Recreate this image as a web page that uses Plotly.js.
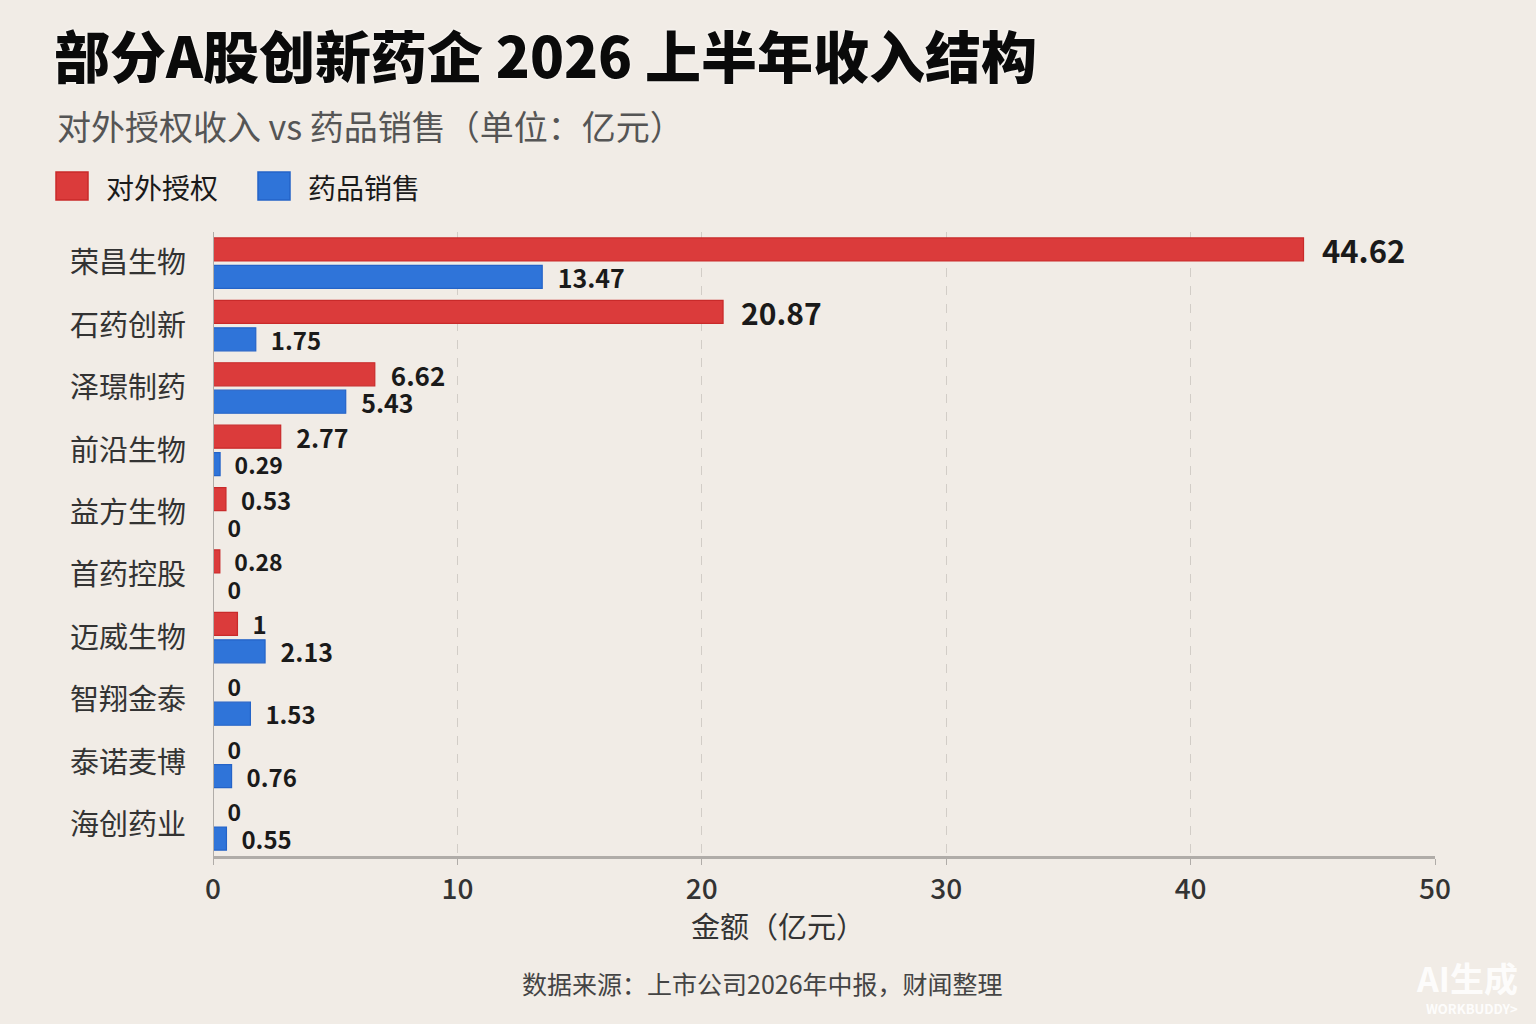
<!DOCTYPE html>
<html>
<head>
<meta charset="utf-8">
<script src="https://cdn.plot.ly/plotly-3.0.1.min.js"></script>
<style>
  html, body { margin: 0; padding: 0; background: #f1ece6; }
  #chart { width: 1536px; height: 1024px; }
</style>
</head>
<body>
<div id="chart"></div>
<script>
// 部分A股创新药企 2026 上半年收入结构 — 对外授权 vs 药品销售（亿元）
const companies = ['荣昌生物', '石药创新', '泽璟制药', '前沿生物', '益方生物', '首药控股', '迈威生物', '智翔金泰', '泰诺麦博', '海创药业'];
const licenseIncome = [44.62, 20.87, 6.62, 2.77, 0.53, 0.28, 1, 0, 0, 0];
const drugSales = [13.47, 1.75, 5.43, 0.29, 0, 0, 2.13, 1.53, 0.76, 0.55];
const xTicks = [0, 10, 20, 30, 40, 50];

const COLORS = {
  bg: '#f1ece6',
  red: '#db3b3b',
  redEdge: '#c92a2a',
  blue: '#2f74d9',
  blueEdge: '#2463c8',
  grid: '#d2cdc7',
  axis: '#b0aca8',
  text: '#1a1a1a',
  label: '#333333',
  sub: '#555555',
};
const FONT = '"Noto Sans CJK SC", "Noto Sans", sans-serif';
const NUM_FONT = '"Noto Sans CJK SC", Roboto, sans-serif';

const W = 1536, H = 1024;
const M = { l: 213, r: 101, t: 232, b: 168 };
// 像素 → paper 坐标
const px = x => (x - M.l) / (W - M.l - M.r);
const py = y => (H - M.b - y) / (H - M.t - M.b);

const labelOf = v => '\u2002' + String(v);

const traces = [
  {
    type: 'bar', orientation: 'h', name: '对外授权',
    y: companies, x: licenseIncome,
    marker: { color: COLORS.red, line: { color: COLORS.redEdge, width: 1.2 } },
    text: licenseIncome.map(labelOf), textposition: 'outside', constraintext: 'none', cliponaxis: false,
    textfont: { family: NUM_FONT, weight: 700, color: COLORS.text, size: [31, 30, 26, 25, 24, 23, 24, 23, 23, 23] },
    hoverinfo: 'x+name',
  },
  {
    type: 'bar', orientation: 'h', name: '药品销售',
    y: companies, x: drugSales,
    marker: { color: COLORS.blue, line: { color: COLORS.blueEdge, width: 1.2 } },
    text: drugSales.map(labelOf), textposition: 'outside', constraintext: 'none', cliponaxis: false,
    textfont: { family: NUM_FONT, weight: 700, color: COLORS.text, size: [25, 24, 25, 23, 23, 23, 25, 24, 24, 24] },
    hoverinfo: 'x+name',
  },
];

// 手绘图例（方块 + 文字），与原图位置一致
const legendItems = [
  { name: '对外授权', color: COLORS.red, edge: COLORS.redEdge, x0: 56, tx: 104 },
  { name: '药品销售', color: COLORS.blue, edge: COLORS.blueEdge, x0: 258, tx: 306 },
];
const legendShapes = legendItems.map(it => ({
  type: 'rect', xref: 'paper', yref: 'paper',
  x0: px(it.x0), x1: px(it.x0 + 32), y0: py(200), y1: py(172),
  fillcolor: it.color, line: { color: it.edge, width: 1.5 },
}));
const legendText = legendItems.map(it => ({
  xref: 'paper', yref: 'paper', x: px(it.tx), y: py(187), xanchor: 'left', yanchor: 'middle',
  text: it.name, showarrow: false, font: { family: FONT, size: 28, color: COLORS.text },
}));

const layout = {
  width: W, height: H,
  paper_bgcolor: COLORS.bg, plot_bgcolor: COLORS.bg,
  margin: M,
  font: { family: FONT, color: COLORS.label },
  title: {
    text: '部分A股创新药企 2026 上半年收入结构',
    xref: 'container', yref: 'container', x: 54 / W, xanchor: 'left', y: 1 - 58 / H, yanchor: 'middle',
    font: { family: FONT, size: 56, weight: 900, color: '#0a0a0a', shadow: '0 0 3px #ffffff' },
  },
  showlegend: false,
  barmode: 'group', bargap: 0.12, bargroupgap: 0.16,
  xaxis: {
    range: [0, 50], tickvals: xTicks, ticktext: xTicks.map(String),
    showgrid: true, gridcolor: COLORS.grid, griddash: 'dash', gridwidth: 1,
    zeroline: false, showline: true, linecolor: COLORS.axis, linewidth: 3,
    ticks: 'outside', ticklen: 6, tickcolor: COLORS.axis, tickwidth: 1,
    tickfont: { family: NUM_FONT, size: 28, weight: 500, color: COLORS.label },
    fixedrange: true,
  },
  yaxis: {
    autorange: 'reversed', showgrid: false, zeroline: false,
    showline: false, ticks: '', ticklabelstandoff: 26,
    tickfont: { family: FONT, size: 29, color: COLORS.label },
    fixedrange: true,
  },
  shapes: [
    // 左侧 0 轴线
    { type: 'line', xref: 'x', yref: 'paper', x0: 0, x1: 0, y0: 0, y1: 1, line: { color: COLORS.axis, width: 2 } },
    ...legendShapes,
  ],
  annotations: [
    { xref: 'paper', yref: 'paper', x: px(55), y: py(126), xanchor: 'left', yanchor: 'middle', showarrow: false,
      text: '对外授权收入 vs 药品销售（单位：亿元）', font: { family: FONT, size: 34, color: COLORS.sub } },
    ...legendText,
    { xref: 'paper', yref: 'paper', x: px(778), y: py(925), xanchor: 'center', yanchor: 'middle', showarrow: false,
      text: '金额（亿元）', font: { family: FONT, size: 29, color: COLORS.label } },
    { xref: 'paper', yref: 'paper', x: px(762), y: py(983), xanchor: 'center', yanchor: 'middle', showarrow: false,
      text: '数据来源：上市公司2026年中报，财闻整理', font: { family: FONT, size: 25, color: '#444444' } },
    // 水印
    { xref: 'paper', yref: 'paper', x: px(1520), y: py(977), xanchor: 'right', yanchor: 'middle', showarrow: false,
      text: 'AI生成', font: { family: FONT, size: 34, weight: 700, color: 'rgba(255,255,255,0.9)' } },
    { xref: 'paper', yref: 'paper', x: px(1520), y: py(1008), xanchor: 'right', yanchor: 'middle', showarrow: false,
      text: 'WORKBUDDY>', font: { family: NUM_FONT, size: 13, weight: 700, color: 'rgba(255,255,255,0.9)' } },
  ],
  hovermode: 'closest',
};

Plotly.newPlot('chart', traces, layout, { displayModeBar: false, responsive: false });
</script>
</body>
</html>
